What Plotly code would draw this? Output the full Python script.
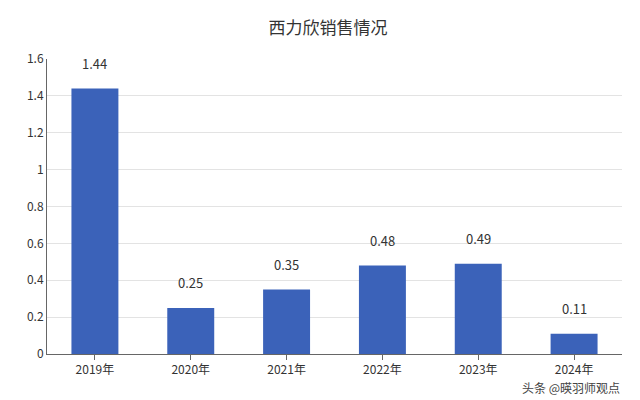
import plotly.graph_objects as go

years = ["2019年", "2020年", "2021年", "2022年", "2023年", "2024年"]
sales = [1.44, 0.25, 0.35, 0.48, 0.49, 0.11]
tick_vals = [0, 0.2, 0.4, 0.6, 0.8, 1, 1.2, 1.4, 1.6]
tick_text = ["0", "0.2", "0.4", "0.6", "0.8", "1", "1.2", "1.4", "1.6"]

fig = go.Figure()
fig.add_trace(go.Bar(
    x=years, y=sales, width=0.49,
    marker=dict(color="#3b62b9", line=dict(width=0)),
))
for yr, v in zip(years, sales):
    fig.add_annotation(x=yr, y=v, text=f"{v:g}", showarrow=False,
                       yshift=25, font=dict(size=13, color="#333"))

# watermark
fig.add_annotation(xref="paper", yref="paper", x=1.0, y=-0.115,
                   xanchor="right", yanchor="middle", text="头条 @暎羽师观点",
                   showarrow=False, font=dict(size=12, color="#444"))

fig.update_layout(
    width=640, height=400,
    margin=dict(l=39, r=26, t=51, b=54),
    paper_bgcolor="white", plot_bgcolor="white",
    title=dict(text="西力欣销售情况", x=0.5, y=0.965, xanchor="center",
               font=dict(size=17, color="#333", family="Noto Sans CJK SC")),
    font=dict(family="Noto Sans CJK SC, Noto Sans", color="#333", size=12),
    showlegend=False,
)
fig.update_xaxes(showline=True, linecolor="#666", ticks="outside",
                 tickcolor="#666", ticklen=5, tickfont=dict(size=12))
fig.update_yaxes(range=[0, 1.6], tickvals=tick_vals, ticktext=tick_text,
                 showgrid=True, gridcolor="#e3e3e3", showline=True,
                 linecolor="#666", zeroline=False, tickfont=dict(size=12))

fig.write_html("out.html")
